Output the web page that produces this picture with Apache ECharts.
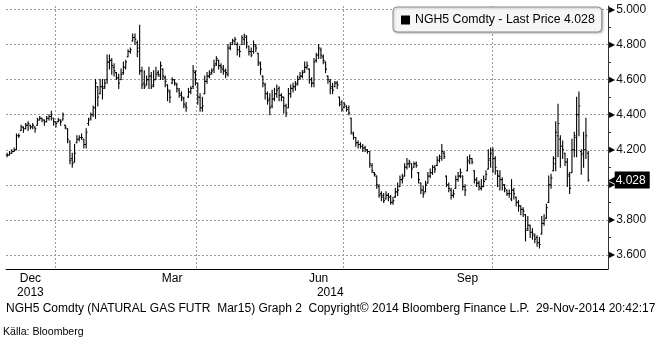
<!DOCTYPE html>
<html>
<head>
<meta charset="utf-8">
<script src="https://cdn.jsdelivr.net/npm/echarts@6/dist/echarts.min.js"></script>
<style>
  html, body { margin: 0; padding: 0; background: #fff; }
  #chart { width: 655px; height: 341px; }
</style>
</head>
<body>
<div id="chart"></div>
<script>
// NGH5 (Natural gas futures, Mar 2015) daily bars, 2 Dec 2013 – 28 Nov 2014
const opens = [
  4.17,4.17,4.18,4.19,4.20,4.28,4.31,4.33,4.32,4.34,
  4.34,4.33,4.33,4.34,4.37,4.38,4.37,4.36,4.38,4.39,
  4.38,4.36,4.36,4.37,4.37,4.34,4.32,4.25,4.15,4.13,
  4.24,4.26,4.27,4.26,4.23,4.35,4.38,4.40,4.44,4.56,
  4.52,4.56,4.56,4.60,4.70,4.71,4.67,4.64,4.61,4.60,
  4.64,4.67,4.73,4.76,4.82,4.84,4.81,4.78,4.65,4.58,
  4.57,4.60,4.62,4.57,4.60,4.64,4.62,4.66,4.61,4.57,
  4.53,4.58,4.60,4.57,4.54,4.51,4.49,4.45,4.50,4.53,
  4.56,4.64,4.58,4.50,4.44,4.52,4.59,4.62,4.64,4.66,
  4.69,4.71,4.68,4.66,4.65,4.63,4.78,4.81,4.82,4.80,
  4.77,4.80,4.83,4.84,4.79,4.76,4.76,4.79,4.75,4.69,
  4.62,4.57,4.52,4.49,4.45,4.49,4.52,4.55,4.51,4.50,
  4.45,4.44,4.52,4.55,4.56,4.58,4.61,4.62,4.65,4.67,
  4.66,4.60,4.58,4.71,4.74,4.77,4.73,4.70,4.62,4.59,
  4.56,4.56,4.58,4.50,4.47,4.44,4.45,4.44,4.38,4.29,
  4.27,4.24,4.23,4.22,4.21,4.20,4.19,4.11,4.07,4.05,
  3.99,3.95,3.94,3.92,3.94,3.93,3.90,3.93,3.96,3.99,
  4.03,4.05,4.10,4.12,4.12,4.10,4.12,4.07,4.01,3.97,
  3.96,4.01,4.05,4.07,4.10,4.11,4.14,4.15,4.18,4.05,
  4.00,3.97,3.94,3.98,4.03,4.05,4.05,3.99,4.08,4.13,
  4.15,4.08,4.03,4.01,3.98,3.99,4.03,4.09,4.15,4.20,
  4.15,4.08,4.05,4.03,4.00,3.97,3.95,3.92,3.97,3.93,
  3.90,3.88,3.86,3.83,3.75,3.77,3.73,3.71,3.70,3.67,
  3.72,3.78,3.81,3.90,4.00,4.08,4.12,4.28,4.26,4.22,
  4.18,4.13,4.06,4.07,4.20,4.27,4.40,4.19,4.18,4.20,
  4.18
];
const highs = [
  4.18,4.19,4.20,4.21,4.29,4.29,4.34,4.33,4.35,4.36,
  4.34,4.35,4.33,4.38,4.39,4.38,4.37,4.39,4.40,4.42,
  4.38,4.36,4.38,4.37,4.41,4.34,4.32,4.25,4.18,4.23,
  4.28,4.28,4.29,4.26,4.32,4.38,4.41,4.45,4.60,4.56,
  4.60,4.60,4.60,4.74,4.74,4.72,4.69,4.64,4.63,4.66,
  4.70,4.71,4.77,4.78,4.86,4.86,4.82,4.91,4.67,4.65,
  4.62,4.67,4.64,4.65,4.67,4.65,4.70,4.66,4.62,4.57,
  4.54,4.61,4.60,4.58,4.55,4.53,4.50,4.47,4.55,4.56,
  4.68,4.65,4.58,4.52,4.50,4.62,4.64,4.65,4.66,4.71,
  4.73,4.71,4.69,4.68,4.66,4.80,4.81,4.83,4.84,4.81,
  4.79,4.85,4.86,4.85,4.79,4.78,4.82,4.80,4.75,4.70,
  4.62,4.58,4.53,4.52,4.54,4.55,4.57,4.56,4.52,4.50,
  4.46,4.55,4.57,4.58,4.59,4.62,4.64,4.65,4.70,4.70,
  4.66,4.61,4.72,4.75,4.80,4.78,4.74,4.70,4.62,4.60,
  4.58,4.59,4.59,4.50,4.48,4.47,4.45,4.45,4.38,4.30,
  4.27,4.25,4.24,4.23,4.22,4.20,4.19,4.12,4.07,4.05,
  4.00,3.96,3.95,3.96,3.95,3.94,3.93,3.98,4.01,4.05,
  4.06,4.12,4.15,4.14,4.12,4.13,4.13,4.07,4.01,3.99,
  4.02,4.07,4.09,4.11,4.11,4.16,4.17,4.23,4.19,4.05,
  4.01,3.98,3.97,4.05,4.07,4.09,4.05,4.00,4.16,4.17,
  4.15,4.08,4.04,4.02,4.03,4.05,4.08,4.20,4.21,4.21,
  4.16,4.08,4.08,4.04,4.00,3.97,3.97,4.03,3.98,3.93,
  3.91,3.88,3.87,3.83,3.82,3.77,3.75,3.72,3.71,3.70,
  3.82,3.83,3.89,4.05,4.06,4.16,4.36,4.46,4.28,4.25,
  4.18,4.15,4.07,4.26,4.30,4.50,4.53,4.20,4.30,4.38,
  4.19
];
const lows = [
  4.16,4.17,4.18,4.19,4.20,4.27,4.31,4.30,4.32,4.31,
  4.32,4.32,4.30,4.34,4.37,4.36,4.34,4.36,4.37,4.37,
  4.34,4.33,4.36,4.34,4.37,4.32,4.24,4.12,4.10,4.13,
  4.24,4.25,4.26,4.21,4.21,4.34,4.37,4.39,4.38,4.45,
  4.52,4.49,4.55,4.58,4.66,4.63,4.62,4.60,4.55,4.60,
  4.63,4.66,4.73,4.75,4.82,4.80,4.73,4.63,4.55,4.55,
  4.57,4.55,4.55,4.56,4.60,4.62,4.60,4.60,4.56,4.48,
  4.47,4.58,4.57,4.53,4.50,4.48,4.44,4.42,4.50,4.52,
  4.55,4.57,4.46,4.42,4.42,4.52,4.58,4.61,4.63,4.64,
  4.68,4.66,4.64,4.63,4.61,4.62,4.77,4.80,4.80,4.74,
  4.73,4.80,4.80,4.78,4.74,4.73,4.75,4.76,4.68,4.63,
  4.56,4.49,4.46,4.40,4.44,4.48,4.50,4.48,4.48,4.41,
  4.39,4.44,4.50,4.53,4.54,4.57,4.60,4.61,4.64,4.66,
  4.58,4.56,4.56,4.70,4.72,4.72,4.69,4.64,4.58,4.52,
  4.52,4.56,4.55,4.45,4.42,4.44,4.42,4.40,4.29,4.26,
  4.22,4.21,4.21,4.19,4.19,4.18,4.10,4.07,4.05,3.98,
  3.93,3.91,3.90,3.92,3.91,3.89,3.89,3.93,3.94,3.99,
  4.01,4.05,4.09,4.10,4.04,4.10,4.10,4.01,3.95,3.93,
  3.96,4.01,4.04,4.06,4.07,4.11,4.13,4.14,4.15,3.99,
  3.96,3.92,3.93,3.98,4.02,4.04,3.97,3.94,4.08,4.12,
  4.12,4.01,3.99,3.97,3.97,3.99,4.03,4.09,4.10,4.07,
  4.06,3.99,3.97,3.97,3.96,3.94,3.93,3.91,3.92,3.88,
  3.85,3.83,3.82,3.68,3.74,3.70,3.69,3.67,3.65,3.64,
  3.72,3.77,3.81,3.90,3.98,4.08,4.08,4.16,4.10,4.15,
  4.11,3.99,3.95,4.07,4.16,4.16,4.28,4.06,4.10,4.15,
  4.02
];
const closes = [
  4.17,4.18,4.19,4.20,4.28,4.28,4.33,4.32,4.34,4.35,
  4.33,4.34,4.32,4.37,4.38,4.37,4.36,4.38,4.39,4.40,
  4.36,4.35,4.37,4.36,4.40,4.33,4.26,4.14,4.12,4.18,
  4.26,4.27,4.27,4.23,4.30,4.37,4.40,4.44,4.58,4.50,
  4.56,4.55,4.58,4.70,4.71,4.68,4.65,4.61,4.58,4.63,
  4.67,4.70,4.76,4.77,4.84,4.83,4.76,4.65,4.57,4.56,
  4.60,4.62,4.56,4.60,4.63,4.63,4.68,4.62,4.59,4.54,
  4.50,4.60,4.58,4.55,4.52,4.50,4.46,4.44,4.53,4.55,
  4.65,4.60,4.50,4.44,4.45,4.59,4.62,4.63,4.65,4.68,
  4.72,4.68,4.67,4.65,4.64,4.78,4.80,4.82,4.83,4.77,
  4.76,4.84,4.85,4.81,4.76,4.74,4.80,4.78,4.70,4.66,
  4.58,4.52,4.48,4.44,4.49,4.52,4.54,4.51,4.50,4.45,
  4.41,4.52,4.55,4.56,4.57,4.60,4.62,4.64,4.67,4.68,
  4.60,4.58,4.70,4.74,4.78,4.74,4.71,4.66,4.60,4.55,
  4.54,4.58,4.57,4.46,4.43,4.46,4.43,4.41,4.30,4.27,
  4.24,4.23,4.22,4.21,4.20,4.19,4.12,4.08,4.06,4.00,
  3.94,3.93,3.91,3.94,3.93,3.90,3.91,3.96,3.97,4.03,
  4.04,4.10,4.12,4.13,4.09,4.12,4.11,4.03,3.97,3.95,
  4.00,4.05,4.07,4.10,4.09,4.14,4.16,4.19,4.16,4.00,
  3.98,3.94,3.95,4.03,4.05,4.07,3.99,3.97,4.14,4.15,
  4.13,4.03,4.01,3.99,3.99,4.02,4.06,4.14,4.18,4.15,
  4.10,4.05,4.03,4.00,3.98,3.95,3.95,3.97,3.95,3.90,
  3.88,3.86,3.85,3.74,3.77,3.73,3.72,3.69,3.67,3.66,
  3.78,3.80,3.87,4.00,4.04,4.15,4.30,4.35,4.22,4.20,
  4.13,4.05,3.98,4.20,4.28,4.40,4.45,4.17,4.20,4.28,
  4.028
];

const yTicks = [3.6, 3.8, 4.0, 4.2, 4.4, 4.6, 4.8, 5.0];
const yMinorTicks = [3.7, 3.9, 4.1, 4.3, 4.5, 4.7, 4.9];
const holidays = ['2013-12-25','2014-01-01','2014-01-20','2014-02-17','2014-04-18',
                  '2014-05-26','2014-07-04','2014-09-01','2014-11-27'];
const firstDay = '2013-12-02';
const axisDays = 259;           // trading days on the axis, incl. blank space after the last bar
const monthNames = ['Jan','Feb','Mar','Apr','May','Jun','Jul','Aug','Sep','Oct','Nov','Dec'];
const labelledMonths = [11, 2, 5, 8];   // Dec, Mar, Jun, Sep
const seriesName = 'NGH5 Comdty';
const footer = 'NGH5 Comdty (NATURAL GAS FUTR  Mar15) Graph 2  Copyright\u00A9 2014 Bloomberg Finance L.P.  29-Nov-2014 20:42:17';
const source = 'Källa: Bloomberg';

// --- trading-day calendar ---
function tradingDays(start, count) {
  const out = [];
  const d = new Date(start + 'T00:00:00Z');
  while (out.length < count) {
    const wd = d.getUTCDay();
    const s = d.toISOString().slice(0, 10);
    if (wd !== 0 && wd !== 6 && holidays.indexOf(s) < 0) out.push(s);
    d.setUTCDate(d.getUTCDate() + 1);
  }
  return out;
}
const days = tradingDays(firstDay, axisDays);

const monthStart = new Set(), quarterStart = new Set(), monthMid = new Set();
const yearMid = new Set(), yearStart = new Set();
(function () {
  const groups = (keyFn, onGroup) => {
    let s = 0;
    for (let i = 1; i <= days.length; i++) {
      if (i === days.length || keyFn(days[i]) !== keyFn(days[s])) { onGroup(s, i - 1); s = i; }
    }
  };
  groups(d => d.slice(0, 7), (a, b) => {
    monthStart.add(a);
    const m = +days[a].slice(5, 7) - 1;
    if (m % 3 === 0) quarterStart.add(a);
    if (labelledMonths.indexOf(m) >= 0 && b - a > 15) monthMid.add(Math.floor((a + b) / 2));
  });
  groups(d => d.slice(0, 4), (a, b) => {
    if (a > 0) yearStart.add(a);
    yearMid.add(Math.floor((a + b) / 2));
  });
})();

const bars = closes.map((c, i) => [i, opens[i], highs[i], lows[i], c]);
const lastPrice = closes[closes.length - 1];

const FONT = 'Liberation Sans';
const yMin = 3.5202, yMax = 5.0198;

const chart = echarts.init(document.getElementById('chart'), null, { renderer: 'canvas' });
chart.setOption({
  animation: false,
  backgroundColor: '#fff',
  textStyle: { fontFamily: FONT },
  title: [
    { text: footer, left: 6, top: 303, padding: 0,
      textStyle: { fontSize: 12, fontWeight: 'normal', color: '#000', fontFamily: FONT } },
    { text: source, left: 3, top: 327, padding: 0,
      textStyle: { fontSize: 10.6, fontWeight: 'normal', color: '#000', fontFamily: FONT } }
  ],
  legend: {
    left: 393, top: 7,
    padding: [7, 7, 6, 8],
    itemWidth: 9, itemHeight: 9, itemGap: 5,
    icon: 'rect',
    backgroundColor: '#f6f6f6',
    borderColor: '#8a8a8a', borderWidth: 1, borderRadius: 4,
    shadowBlur: 2, shadowColor: 'rgba(0,0,0,0.25)', shadowOffsetX: 1, shadowOffsetY: 1,
    selectedMode: false,
    formatter: n => n + ' - Last Price ' + lastPrice.toFixed(3),
    textStyle: { fontSize: 12.3, color: '#000', fontFamily: FONT },
    data: [{ name: seriesName, itemStyle: { color: '#000' } }]
  },
  grid: { left: 6, right: 47, top: 6, bottom: 72, containLabel: false },
  xAxis: [{
    type: 'category', data: days, boundaryGap: true,
    axisLine: { lineStyle: { color: '#000', width: 1 } },
    axisTick: { interval: i => monthStart.has(i), length: 3, lineStyle: { color: '#000' } },
    splitLine: { show: true, interval: i => quarterStart.has(i),
                 lineStyle: { type: [2, 2], color: '#9a9a9a', width: 1 } },
    axisLabel: {
      interval: i => monthMid.has(i), margin: 4, fontSize: 12, color: '#000', fontFamily: FONT,
      formatter: v => monthNames[+v.slice(5, 7) - 1]
    }
  }, {
    type: 'category', data: days, boundaryGap: true, position: 'bottom', offset: 17,
    axisLine: { show: false },
    axisTick: { interval: i => yearStart.has(i), length: 12, lineStyle: { color: '#000' } },
    splitLine: { show: false },
    axisLabel: {
      interval: i => yearMid.has(i), margin: 1, fontSize: 12, color: '#000', fontFamily: FONT,
      formatter: v => v.slice(0, 4)
    }
  }],
  yAxis: [{
    type: 'value', position: 'right', min: yMin, max: yMax,
    axisLine: { show: true, lineStyle: { color: '#333', width: 1 } },
    axisTick: { show: false, customValues: yTicks },
    splitLine: { show: true, lineStyle: { type: [2, 2], color: '#9a9a9a', width: 1 } },
    axisLabel: {
      customValues: yTicks, margin: 1,
      formatter: v => '{t|\u25B6}{v|' + v.toFixed(3) + '}',
      rich: {
        t: { fontSize: 8, color: '#000', fontFamily: 'DejaVu Sans', padding: [0, 1, 0, 0] },
        v: { fontSize: 12, color: '#111', fontFamily: FONT }
      }
    }
  }, {
    type: 'value', position: 'right', min: yMin, max: yMax,
    axisLine: { show: false },
    axisTick: { show: true, customValues: yMinorTicks, length: 3, lineStyle: { color: '#333' } },
    axisLabel: { show: false },
    splitLine: { show: false }
  }, {
    // last-price tag on the value axis
    type: 'value', position: 'right', min: yMin, max: yMax, z: 10,
    axisLine: { show: false },
    axisTick: { show: false, customValues: [lastPrice] },
    splitLine: { show: false },
    axisLabel: {
      customValues: [lastPrice], margin: 0,
      formatter: v => '{a|\u25C0}{b|' + v.toFixed(3) + '}',
      rich: {
        a: { fontSize: 10, color: '#000', fontFamily: 'DejaVu Sans', padding: [0, -1, 0, 0] },
        b: { fontSize: 12, color: '#fff', backgroundColor: '#000', padding: [3, 4, 2, 1], fontFamily: FONT }
      }
    }
  }],
  series: [{
    name: seriesName,
    type: 'custom',
    xAxisIndex: 0, yAxisIndex: 0,
    encode: { x: 0, y: [1, 2, 3, 4] },
    data: bars,
    itemStyle: { color: '#000' },
    renderItem: (params, api) => {
      const i = api.value(0);
      const o = api.coord([i, api.value(1)]);
      const h = api.coord([i, api.value(2)]);
      const l = api.coord([i, api.value(3)]);
      const c = api.coord([i, api.value(4)]);
      const x = h[0];
      const w = 1.3;
      const st = { stroke: '#000', lineWidth: 1.1 };
      return {
        type: 'group',
        children: [
          { type: 'line', shape: { x1: x, y1: h[1] - 0.5, x2: x, y2: l[1] + 0.5 }, style: st },
          { type: 'line', shape: { x1: x - w, y1: o[1], x2: x, y2: o[1] }, style: st },
          { type: 'line', shape: { x1: x, y1: c[1], x2: x + w, y2: c[1] }, style: st }
        ]
      };
    }
  }]
});
</script>
</body>
</html>
